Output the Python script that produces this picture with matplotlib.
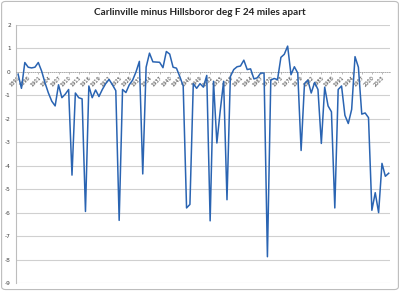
import matplotlib
matplotlib.use("Agg")
import matplotlib.pyplot as plt
from matplotlib.patches import FancyBboxPatch

plt.rcParams["axes.unicode_minus"] = False

YEARS = list(range(1895, 2006))
DIFF_F = [
    -0.1, -0.7, 0.4, 0.2, 0.17, 0.2, 0.4, 0.03, -0.47, -0.9,
    -1.25, -1.45, -0.55, -1.1, -0.95, -0.75, -4.4, -0.9, -1.1, -1.15,
    -5.95, -0.6, -1.1, -0.77, -1.05, -0.75, -0.5, -0.32, -0.55, -0.8,
    -6.33, -0.75, -0.88, -0.55, -0.35, 0.0, 0.45, -4.35, 0.2, 0.8,
    0.43, 0.42, 0.41, 0.18, 0.87, 0.76, 0.2, 0.16, -0.2, -0.6,
    -5.8, -5.65, -0.5, -0.7, -0.5, -0.65, -0.15, -6.35, -0.4, -3.03,
    -1.65, -0.4, -5.45, -0.2, 0.1, 0.22, 0.25, 0.5, 0.1, 0.13,
    -0.3, -0.25, -0.05, -0.05, -7.88, -0.35, -0.28, -0.33, 0.62, 0.75,
    1.1, -0.12, 0.22, -0.05, -3.35, -0.5, -0.35, -0.9, -0.45, -0.75,
    -3.05, -0.65, -1.45, -1.7, -5.8, -0.75, -0.6, -1.85, -2.2, -1.6,
    0.65, 0.2, -1.8, -1.75, -1.95, -5.9, -5.15, -6.0, -3.9, -4.45,
    -4.32,
]
LABEL_YEARS = YEARS[::3]
Y_TICKS = list(range(-9, 3))

LINE_COLOR = "#2a64b2"
GRID_COLOR = "#d0d0d0"
TEXT_COLOR = "#404040"

fig = plt.figure(figsize=(4.0, 2.91), dpi=100)
frame = FancyBboxPatch(
    (0.004, 0.005), 0.992, 0.99,
    boxstyle="round,pad=0,rounding_size=0.01",
    transform=fig.transFigure,
    facecolor="white", edgecolor="#bdbdbd", linewidth=0.8,
    zorder=-10,
)
fig.patches.append(frame)

ax = fig.add_axes([0.041, 0.0275, 0.935, 0.8866])
ax.set_facecolor("none")

for v in Y_TICKS:
    if v != 0:
        ax.axhline(v, color=GRID_COLOR, linewidth=0.8, zorder=0)

ax.plot(YEARS, DIFF_F, color=LINE_COLOR, linewidth=1.1, zorder=3)

ax.set_xlim(YEARS[0] - 0.5, YEARS[-1] + 0.5)
ax.set_ylim(-9, 2)

for side in ["top", "right"]:
    ax.spines[side].set_visible(False)
ax.spines["left"].set_color("#bdbdbd")
ax.spines["left"].set_linewidth(0.8)
ax.spines["bottom"].set_position(("data", 0))
ax.spines["bottom"].set_color("#a0a0a0")
ax.spines["bottom"].set_linewidth(0.6)
ax.spines["bottom"].set_linestyle((0, (1, 1.5)))

ax.set_yticks(Y_TICKS)
ax.set_yticklabels([str(v) for v in Y_TICKS])
ax.tick_params(axis="y", length=0, pad=4, labelsize=4.2, labelcolor=TEXT_COLOR)

ax.set_xticks(LABEL_YEARS)
ax.set_xticklabels([str(y) for y in LABEL_YEARS], rotation=45, ha="right",
                   rotation_mode="anchor")
ax.tick_params(axis="x", length=1.5, width=0.5, color="#a0a0a0", pad=1,
               labelsize=3.6, labelcolor=TEXT_COLOR)

fig.text(0.5, 0.958, "Carlinville minus Hillsboror deg F 24 miles apart",
         ha="center", va="center", fontsize=7.2, fontweight="bold",
         family=["Lato", "DejaVu Sans"], color="#262626")

fig.savefig("out.png", dpi=100)
